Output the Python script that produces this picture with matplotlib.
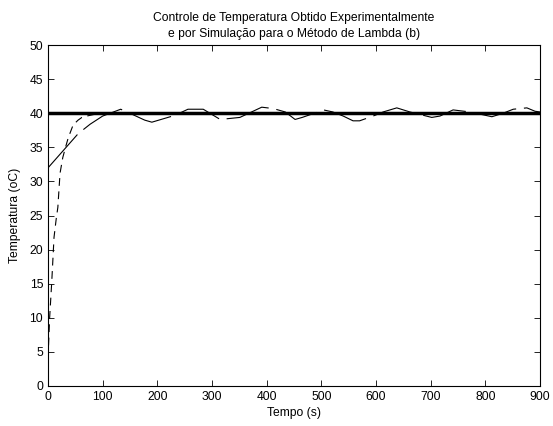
import matplotlib
matplotlib.use('Agg')
import matplotlib.pyplot as plt

plt.rcParams['font.family'] = ['Liberation Sans', 'DejaVu Sans']

# experimental data (tempo em s, temperatura em oC)
t_exp = [0, 55, 77, 100, 133, 150, 177, 190, 232, 256, 284, 315, 351, 391, 412, 434,
         452, 465, 494, 504, 521, 540, 558, 570, 598, 613, 638, 662, 702, 717, 741,
         772, 812, 832, 851, 876, 891, 900]
T_exp = [32, 37, 38.4, 39.6, 40.6, 40.0, 39.0, 38.7, 39.7, 40.6, 40.6, 39.1, 39.4,
         40.9, 40.7, 40.2, 39.1, 39.4, 40.2, 40.5, 40.2, 39.6, 38.9, 38.9, 39.7, 40.2,
         40.8, 40.2, 39.4, 39.6, 40.5, 40.2, 39.5, 40.0, 40.6, 40.8, 40.3, 40.2]

# simulation
t_sim = [0, 3, 7, 11, 15, 18, 22, 27, 32, 37, 46, 55, 62, 71, 85, 100, 130, 900]
T_sim = [4, 10, 15.5, 21.8, 24.5, 26.2, 31.2, 33.5, 35, 36.4, 38.3, 39.0, 39.4, 39.6,
         39.85, 39.95, 40, 40]

# setpoint
t_sp = [0, 900]
T_sp = [40, 40]

fig = plt.figure(figsize=(5.53, 4.26), dpi=100)
ax = fig.add_axes([0.0868, 0.0939, 0.8897, 0.8001])

ax.plot(t_exp, T_exp, color='black', lw=0.8, dashes=(40, 7))
ax.plot(t_sim, T_sim, color='black', lw=0.8, dashes=(7, 5))
ax.plot(t_sp, T_sp, color='black', lw=2.5)

ax.set_xlim(0, 900)
ax.set_ylim(0, 50)
ax.set_xticks(range(0, 901, 100))
ax.set_yticks(range(0, 51, 5))
ax.tick_params(direction='in', top=True, right=True, labelsize=8.7, length=4, width=0.6)
for s in ax.spines.values():
    s.set_linewidth(0.8)

ax.set_xlabel('Tempo (s)', fontsize=8.7, labelpad=3)
ax.set_ylabel('Temperatura (oC)', fontsize=8.7, labelpad=6)
ax.set_title('Controle de Temperatura Obtido Experimentalmente\n'
             'e por Simulação para o Método de Lambda (b)', fontsize=8.7, pad=6,
             linespacing=1.4)

fig.savefig('out.png', dpi=100)
